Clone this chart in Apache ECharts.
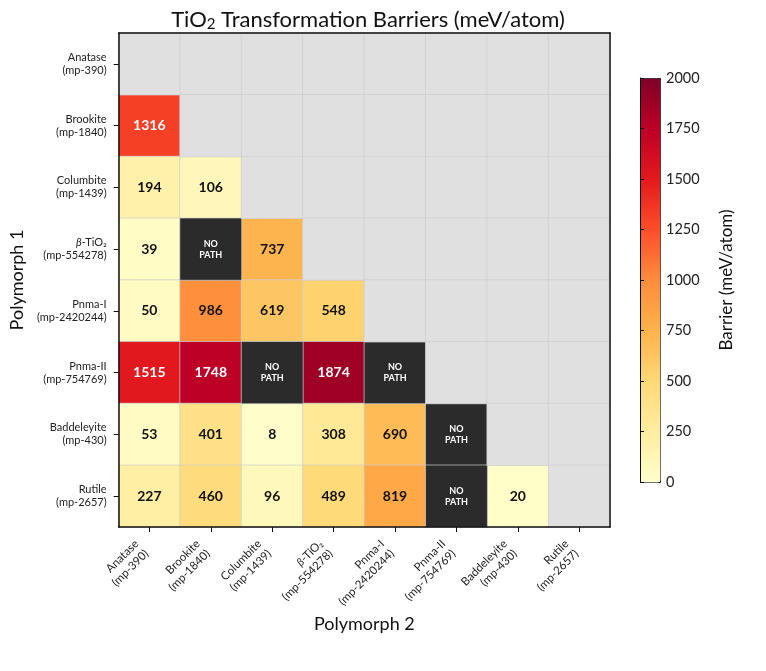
<!DOCTYPE html>
<html>
<head>
<meta charset="utf-8">
<script src="https://cdn.jsdelivr.net/npm/echarts@6/dist/echarts.min.js"></script>
<style>
  html, body { margin: 0; padding: 0; background: #fff; }
  #main { width: 766px; height: 671px; }
</style>
</head>
<body>
<div id="main"></div>
<script>
var myChart = echarts.init(document.getElementById('main'));

// polymorph names and Materials Project ids
const names = ['Anatase', 'Brookite', 'Columbite', 'β-TiO2', 'Pnma-I', 'Pnma-II', 'Baddeleyite', 'Rutile'];
const ids = ['mp-390', 'mp-1840', 'mp-1439', 'mp-554278', 'mp-2420244', 'mp-754769', 'mp-430', 'mp-2657'];

// lower triangle, row = polymorph 1, col = polymorph 2; null = no path
const barrierRows = [
    [],
    [1316],
    [194, 106],
    [39, null, 737],
    [50, 986, 619, 548],
    [1515, 1748, null, 1874, null],
    [53, 401, 8, 308, 690, null],
    [227, 460, 96, 489, 819, null, 20]
];

const colorTicks = [0, 250, 500, 750, 1000, 1250, 1500, 1750, 2000];
const ylOrRd = ['#ffffcc', '#ffeda0', '#fed976', '#feb24c', '#fd8d3c', '#fc4e2a', '#e31a1c', '#bd0026', '#800026'];

const FONT = 'Lato';

let valueData = [];
let noPathData = [];
let emptyData = [];
for (let r = 0; r < names.length; r++) {
    for (let c = 0; c < names.length; c++) {
        if (c < r) {
            let v = barrierRows[r][c];
            if (v === null) {
                noPathData.push([c, r, 0]);
            } else {
                valueData.push({
                    value: [c, r, v],
                    label: { color: v > 1200 ? '#ffffff' : '#111111' }
                });
            }
        } else {
            emptyData.push([c, r, 0]);
        }
    }
}

function tickLabel(i) {
    let n = names[i] === 'β-TiO2' ? '{i|β}-TiO₂' : names[i];
    return n + '\n(' + ids[i] + ')';
}

const labelRich = {
    i: { fontStyle: 'italic', fontFamily: FONT, fontSize: 11, color: '#222' }
};

const cellBorder = { borderColor: 'rgba(205,205,205,0.7)', borderWidth: 1 };
const frameLine = { show: true, lineStyle: { color: '#111', width: 1.5 } };

let option = {
    backgroundColor: '#ffffff',
    textStyle: { fontFamily: FONT },
    title: {
        text: 'TiO{s|2} Transformation Barriers (meV/atom)',
        left: 363,
        top: 2,
        textAlign: 'center',
        textStyle: {
            fontFamily: FONT,
            fontSize: 22,
            fontWeight: 'normal',
            color: '#111',
            rich: {
                s: { fontSize: 15, fontFamily: FONT, color: '#111', padding: [10, 0, 0, 0] }
            }
        }
    },
    grid: [
        { left: 116, top: 33, width: 494, height: 494 },
        { left: 640, top: 78, width: 20, height: 404 }
    ],
    xAxis: [
        {
            type: 'category',
            gridIndex: 0,
            z: 10,
            data: names.map((n, i) => i),
            position: 'bottom',
            name: 'Polymorph 2',
            nameLocation: 'middle',
            nameGap: 86,
            nameTextStyle: { fontFamily: FONT, fontSize: 18, color: '#111' },
            axisLine: frameLine,
            axisTick: { show: true, alignWithLabel: true, length: 5, lineStyle: { color: '#111' } },
            axisLabel: {
                rotate: 45,
                interval: 0,
                margin: 12,
                padding: [0, 11, 0, 0],
                fontFamily: FONT,
                fontSize: 11.5,
                color: '#222',
                lineHeight: 14,
                formatter: v => tickLabel(+v),
                rich: labelRich
            },
            splitLine: { show: false }
        },
        {
            type: 'category',
            gridIndex: 0,
            z: 10,
            data: names.map((n, i) => i),
            position: 'top',
            axisLine: frameLine,
            axisTick: { show: false },
            axisLabel: { show: false }
        },
        {
            type: 'value',
            gridIndex: 1,
            show: false,
            min: 0,
            max: 1
        }
    ],
    yAxis: [
        {
            type: 'category',
            gridIndex: 0,
            z: 10,
            data: names.map((n, i) => i),
            inverse: true,
            name: 'Polymorph 1',
            nameLocation: 'middle',
            nameGap: 90,
            nameTextStyle: { fontFamily: FONT, fontSize: 18, color: '#111' },
            axisLine: frameLine,
            axisTick: { show: true, alignWithLabel: true, length: 5, lineStyle: { color: '#111' } },
            axisLabel: {
                interval: 0,
                margin: 12,
                align: 'right',
                fontFamily: FONT,
                fontSize: 11,
                color: '#222',
                lineHeight: 13,
                formatter: v => tickLabel(+v),
                rich: labelRich
            }
        },
        {
            type: 'category',
            gridIndex: 0,
            z: 10,
            data: names.map((n, i) => i),
            inverse: true,
            position: 'right',
            axisLine: frameLine,
            axisTick: { show: false },
            axisLabel: { show: false }
        },
        {
            type: 'value',
            gridIndex: 1,
            z: 10,
            position: 'right',
            min: colorTicks[0],
            max: colorTicks[colorTicks.length - 1],
            interval: 250,
            name: 'Barrier (meV/atom)',
            nameLocation: 'middle',
            nameGap: 58,
            nameTextStyle: { fontFamily: FONT, fontSize: 17, color: '#111' },
            axisLine: { show: true, lineStyle: { color: '#111', width: 1 } },
            axisTick: { show: true, length: 4, lineStyle: { color: '#111' } },
            axisLabel: { fontFamily: FONT, fontSize: 14.5, color: '#222', margin: 6, formatter: v => String(v) },
            splitLine: { show: false }
        }
    ],
    visualMap: {
        type: 'continuous',
        seriesIndex: 0,
        min: 0,
        max: 2000,
        calculable: false,
        orient: 'vertical',
        left: 640,
        top: 78,
        itemWidth: 20,
        itemHeight: 404,
        padding: 0,
        text: null,
        borderColor: '#111',
        borderWidth: 1,
        inRange: { color: ylOrRd }
    },
    series: [
        {
            name: 'Barrier',
            type: 'heatmap',
            xAxisIndex: 0,
            yAxisIndex: 0,
            data: valueData,
            itemStyle: cellBorder,
            label: {
                show: true,
                fontFamily: FONT,
                fontSize: 14,
                fontWeight: 'bold',
                formatter: p => p.value[2]
            },
            emphasis: { disabled: true }
        },
        {
            name: 'No path',
            type: 'heatmap',
            xAxisIndex: 0,
            yAxisIndex: 0,
            data: noPathData,
            itemStyle: Object.assign({ color: '#2b2b2b' }, cellBorder),
            label: {
                show: true,
                formatter: 'NO\nPATH',
                color: '#ffffff',
                fontFamily: FONT,
                fontSize: 9,
                fontWeight: 'bold',
                lineHeight: 11
            },
            emphasis: { disabled: true }
        },
        {
            name: 'Empty',
            type: 'heatmap',
            xAxisIndex: 0,
            yAxisIndex: 0,
            data: emptyData,
            itemStyle: Object.assign({ color: '#e0e0e0' }, cellBorder),
            label: { show: false },
            emphasis: { disabled: true }
        }
    ]
};

myChart.setOption(option);
</script>
</body>
</html>
